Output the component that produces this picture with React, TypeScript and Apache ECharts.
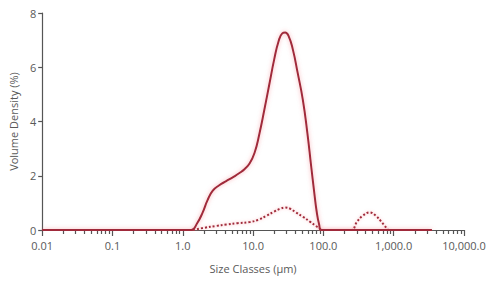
import React, { useEffect, useRef } from "react";
import * as echarts from "echarts";

const sizeSolid = [0.01, 1.0, 1.32, 1.6, 1.92, 2.25, 2.67, 3.3, 4.14, 5.2, 6.4, 7.6, 8.9, 10.5, 12.3, 14.5, 17.1, 20, 23, 26, 28.6, 32, 36.8, 43, 51, 59, 67, 74, 80, 87, 93, 110, 3500];
const densitySolid = [0, 0, 0, 0.25, 0.65, 1.1, 1.45, 1.65, 1.8, 1.95, 2.1, 2.25, 2.45, 2.85, 3.55, 4.45, 5.4, 6.3, 6.95, 7.25, 7.28, 7.15, 6.65, 5.8, 4.8, 3.6, 2.35, 1.4, 0.7, 0.2, 0, 0, 0];

const sizeDotted = [1.4, 2, 3, 4.14, 6, 8.9, 12, 15.3, 20, 24, 28.6, 34, 40, 51, 65, 78, 90, 98, 250, 300, 360, 455, 560, 680, 830];
const densityDotted = [0, 0.08, 0.15, 0.2, 0.25, 0.29, 0.38, 0.52, 0.68, 0.78, 0.83, 0.78, 0.66, 0.49, 0.3, 0.15, 0.04, 0, 0, 0.3, 0.52, 0.65, 0.52, 0.28, 0];

const xTickLabels: Record<string, string> = {
  "0.01": "0.01",
  "0.1": "0.1",
  "1": "1.0",
  "10": "10.0",
  "100": "100.0",
  "1000": "1,000.0",
  "10000": "10,000.0",
};
const yTicks = [0, 2, 4, 6, 8];

const RED = "#a02a3a";
const GLOW = "rgba(240,110,120,0.55)";
const TEXT = "#595959";
const AXIS = "#555";
const FONT = "'Open Sans', 'Noto Sans', sans-serif";

export default function App() {
  const ref = useRef<HTMLDivElement>(null);
  useEffect(() => {
    if (!ref.current) return;
    const chart = echarts.init(ref.current, undefined, { renderer: "svg" });
    const pair = (xs: number[], ys: number[]) => xs.map((x, i) => [x, ys[i]]);
    chart.setOption({
      animation: false,
      backgroundColor: "#fff",
      grid: { left: 42, right: 29, top: 13, bottom: 55, containLabel: false },
      xAxis: {
        type: "log",
        logBase: 10,
        min: 0.01,
        max: 10000,
        interval: 1,
        name: "Size Classes (µm)",
        nameLocation: "middle",
        nameGap: 33,
        nameTextStyle: { color: TEXT, fontSize: 11, fontFamily: FONT },
        axisLine: { show: true, lineStyle: { color: AXIS, width: 1.2 } },
        axisTick: { show: true, length: 6, lineStyle: { color: AXIS, width: 1.2 } },
        minorTick: { show: true, splitNumber: 9, length: 4, lineStyle: { color: AXIS, width: 1.2 } },
        splitLine: { show: false },
        minorSplitLine: { show: false },
        axisLabel: {
          color: TEXT,
          fontSize: 11,
          fontFamily: FONT,
          margin: 10,
          formatter: (v: number) => {
            const k = String(Math.round(v * 100) / 100);
            return xTickLabels[k] ?? "";
          },
        },
      },
      yAxis: {
        type: "value",
        min: yTicks[0],
        max: yTicks[yTicks.length - 1],
        interval: 2,
        name: "Volume Density (%)",
        nameLocation: "middle",
        nameGap: 17,
        nameTextStyle: { color: TEXT, fontSize: 11, fontFamily: FONT },
        axisLine: { show: true, lineStyle: { color: AXIS, width: 1.2 } },
        axisTick: { show: true, length: 4, lineStyle: { color: AXIS, width: 1.2 } },
        splitLine: { show: false },
        axisLabel: { color: TEXT, fontSize: 11, fontFamily: FONT, margin: 6 },
      },
      series: [
        {
          type: "line",
          data: pair(sizeDotted, densityDotted),
          smooth: 0.4,
          symbol: "none",
          lineStyle: { color: RED, width: 2, type: [2, 2], shadowColor: GLOW, shadowBlur: 3 },
          z: 2,
        },
        {
          type: "line",
          data: pair(sizeSolid, densitySolid),
          smooth: 0.5,
          symbol: "none",
          lineStyle: { color: RED, width: 2, shadowColor: GLOW, shadowBlur: 4 },
          z: 3,
        },
      ],
    });
    return () => chart.dispose();
  }, []);
  return (
    <div
      ref={ref}
      style={{ position: "fixed", left: 0, top: 0, width: 493, height: 285, background: "#fff" }}
    />
  );
}
